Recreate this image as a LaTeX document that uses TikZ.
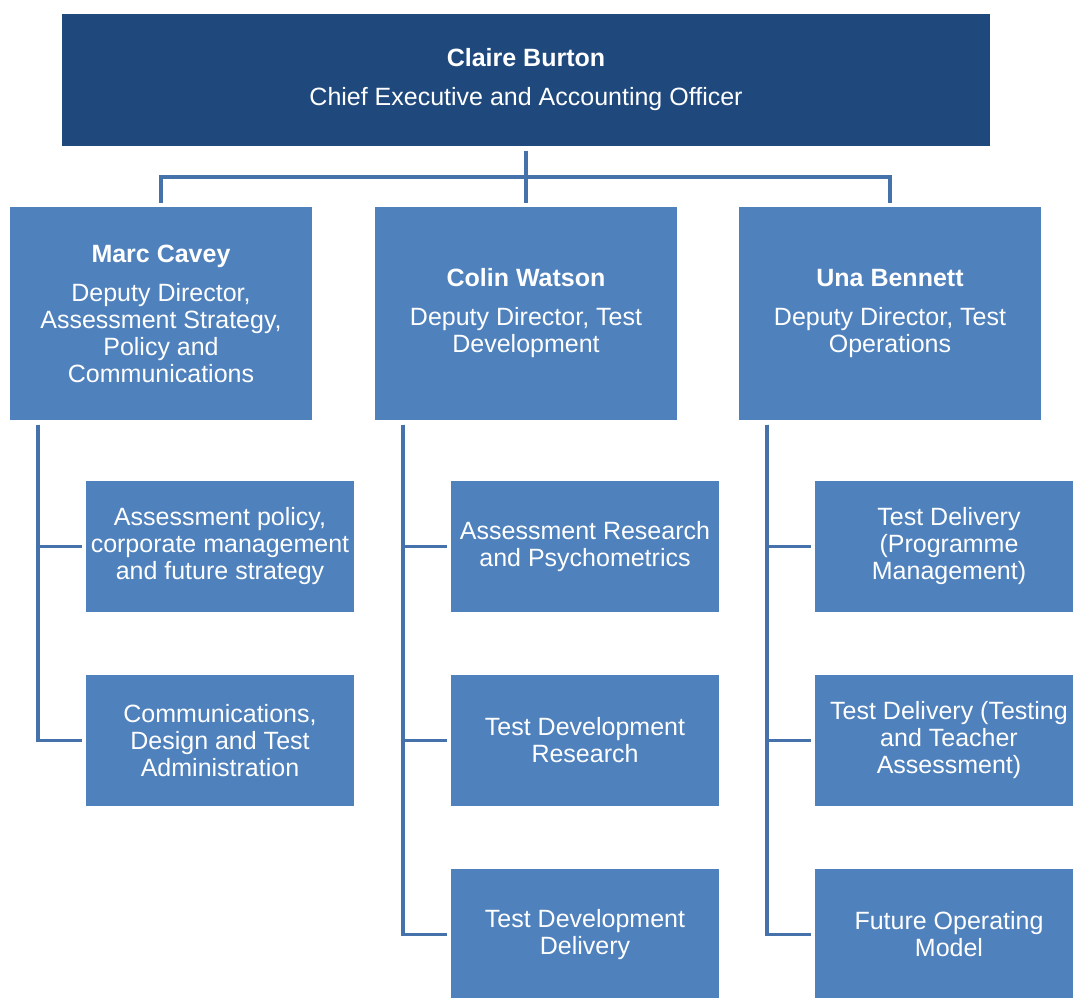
\documentclass[tikz,border=0pt]{standalone}
\usepackage{fontspec}
\setmainfont{Liberation Sans}
\usepackage{tikz}
\usetikzlibrary{positioning}
\definecolor{navy}{RGB}{31,73,125}
\definecolor{midblue}{RGB}{79,129,189}
\definecolor{linkblue}{RGB}{69,114,170}
\tikzstyle{chief} = [fill=navy,text=white,rectangle,inner sep=0,outer sep=4.5pt,minimum width=928pt,minimum height=132pt,align=center,font=\fontsize{25}{27}\selectfont]
\tikzstyle{deputy} = [fill=midblue,text=white,rectangle,inner sep=0,outer sep=4.5pt,minimum width=302pt,minimum height=213pt,align=center,font=\fontsize{25}{27}\selectfont]
\tikzstyle{team} = [fill=midblue,text=white,rectangle,inner sep=0,outer sep=4.5pt,minimum width=268pt,minimum height=131pt,align=center,font=\fontsize{25}{27}\selectfont]
\tikzstyle{bus} = [-,draw=linkblue,line width=4pt]
\tikzstyle{branch} = [-,draw=linkblue,line width=3.5pt]
\def \sp {12pt}
\def \ind {32.5pt}

\begin{document}
\begin{tikzpicture}[x=1pt,y=-1pt]
      \useasboundingbox[fill=white] (0,0) rectangle (1073,997);
      % top of the chart
      \node[chief] (ceo) at (526,80) {\textbf{Claire Burton}\\[\sp]Chief Executive and Accounting Officer};
      % deputy directors
      \node[deputy] (cavey) at (161,313.5) {\textbf{Marc Cavey}\\[\sp]Deputy Director,\\Assessment Strategy,\\Policy and\\Communications};
      \node[deputy] (watson) at (526,313.5) {\textbf{Colin Watson}\\[\sp]Deputy Director, Test\\Development};
      \node[deputy] (bennett) at (890,313.5) {\textbf{Una Bennett}\\[\sp]Deputy Director, Test\\Operations};
      % teams
      \node[team] (policy) at (220,546.5) {Assessment policy,\\corporate management\\and future strategy};
      \node[team] (comms) at (220,740.5) {Communications,\\Design and Test\\Administration};
      \node[team] (psycho) at (585,546.5) {Assessment Research\\and Psychometrics};
      \node[team] (tdres) at (585,740.5) {Test Development\\Research};
      \node[team] (tddel) at (585,934.5) {Test Development\\Delivery};
      \node[team] (progm) at (949,546.5) {Test Delivery\\(Programme\\Management)};
      \node[team] (testing) at (949,740.5) {Test Delivery (Testing\\and Teacher\\Assessment)};
      \node[team] (fom) at (949,934.5) {Future Operating\\Model};
      % connectors
      \coordinate (join) at (526,177);
      \draw[bus] (ceo.south) -- (watson.north);
      \draw[bus] (cavey.north) |- (join) -| (bennett.north);
      \draw[branch] ([xshift=\ind]cavey.south west) |- (policy.west);
      \draw[branch] ([xshift=\ind]cavey.south west) |- (comms.west);
      \draw[branch] ([xshift=\ind]watson.south west) |- (psycho.west);
      \draw[branch] ([xshift=\ind]watson.south west) |- (tdres.west);
      \draw[branch] ([xshift=\ind]watson.south west) |- (tddel.west);
      \draw[branch] ([xshift=\ind]bennett.south west) |- (progm.west);
      \draw[branch] ([xshift=\ind]bennett.south west) |- (testing.west);
      \draw[branch] ([xshift=\ind]bennett.south west) |- (fom.west);
\end{tikzpicture}
\end{document}
